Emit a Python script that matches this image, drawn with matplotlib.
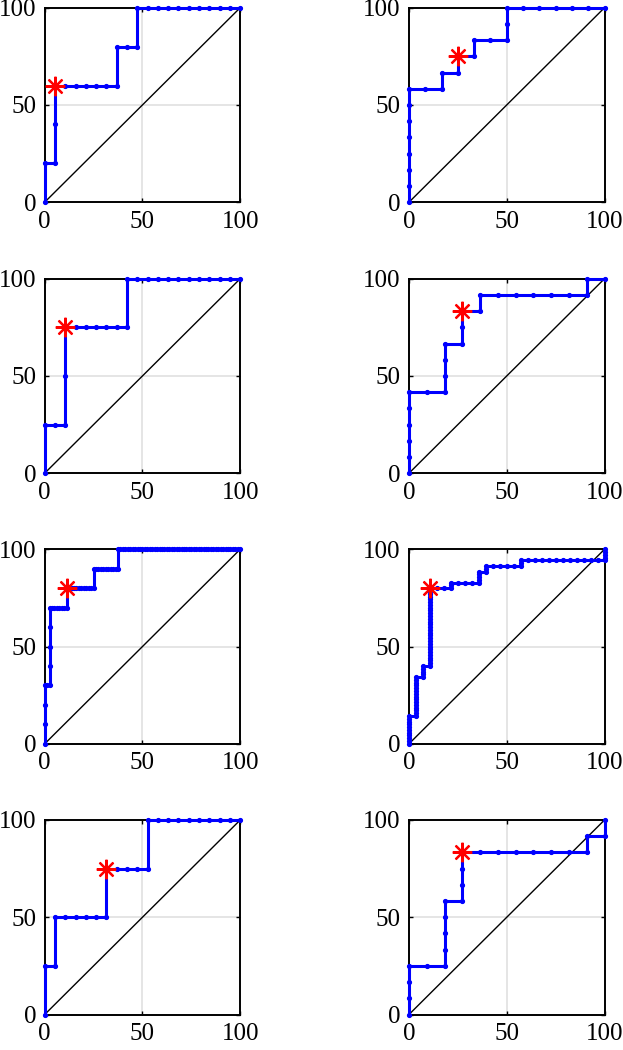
import matplotlib
matplotlib.use('Agg')
import matplotlib.pyplot as plt
import numpy as np

plt.rcParams['font.family'] = ['Liberation Serif', 'DejaVu Serif']

# ROC points per panel: false-positive count, true-positive count, class sizes, optimal point
fp1 = [0, 0, 1, 1, 1, 2, 3, 4, 5, 6, 7, 7, 8, 9, 9, 10, 11, 12, 13, 14, 15, 16, 17, 18, 19]
tp1 = [0, 1, 1, 2, 3, 3, 3, 3, 3, 3, 3, 4, 4, 4, 5, 5, 5, 5, 5, 5, 5, 5, 5, 5, 5]
n1 = (19, 5)
opt1 = (1, 3)

fp2 = [0, 0, 0, 0, 0, 0, 0, 0, 1, 2, 2, 3, 3, 4, 4, 5, 6, 6, 6, 7, 8, 9, 10, 11, 12]
tp2 = [0, 1, 2, 3, 4, 5, 6, 7, 7, 7, 8, 8, 9, 9, 10, 10, 10, 11, 12, 12, 12, 12, 12, 12, 12]
n2 = (12, 12)
opt2 = (3, 9)

fp3 = [0, 0, 1, 2, 2, 2, 3, 4, 5, 6, 7, 8, 8, 9, 10, 11, 12, 13, 14, 15, 16, 17, 18, 19]
tp3 = [0, 1, 1, 1, 2, 3, 3, 3, 3, 3, 3, 3, 4, 4, 4, 4, 4, 4, 4, 4, 4, 4, 4, 4]
n3 = (19, 4)
opt3 = (2, 3)

fp4 = [0, 0, 0, 0, 0, 0, 1, 2, 2, 2, 2, 3, 3, 3, 4, 4, 5, 6, 7, 8, 9, 10, 10, 11]
tp4 = [0, 1, 2, 3, 4, 5, 5, 5, 6, 7, 8, 8, 9, 10, 10, 11, 11, 11, 11, 11, 11, 11, 12, 12]
n4 = (11, 12)
opt4 = (3, 10)

fp5 = [0, 0, 0, 0, 1, 2, 2, 2, 2, 2, 3, 4, 5, 6, 7, 8, 9, 9, 10, 11, 12, 13, 14, 15,
       16, 17, 18, 19, 20, 20, 21, 22, 23, 24, 25, 26, 27, 28, 29, 30, 30, 31, 32, 33,
       34, 35, 36, 37, 38, 39, 40, 41, 42, 43, 44, 45, 46, 47, 48, 49, 50, 51, 52, 53,
       54, 55, 56, 57, 58, 59, 60, 61, 62, 63, 64, 65, 66, 67, 68, 69, 70, 71, 72, 73,
       74, 75, 76, 77, 78, 79, 80]
tp5 = [0, 1, 2, 3, 3, 3, 4, 5, 6, 7, 7, 7, 7, 7, 7, 7, 7, 8, 8, 8, 8, 8, 8, 8,
       8, 8, 8, 8, 8, 9, 9, 9, 9, 9, 9, 9, 9, 9, 9, 9, 10, 10, 10, 10,
       10, 10, 10, 10, 10, 10, 10, 10, 10, 10, 10, 10, 10, 10, 10, 10, 10, 10, 10, 10,
       10, 10, 10, 10, 10, 10, 10, 10, 10, 10, 10, 10, 10, 10, 10, 10, 10, 10, 10, 10,
       10, 10, 10, 10, 10, 10, 10]
n5 = (80, 10)
opt5 = (9, 8)

fp6 = [0, 0, 0, 0, 0, 0, 0, 0, 0, 0, 0, 1, 1, 1, 1, 1, 1, 1, 1, 1, 1, 1, 1, 1, 1, 1,
       2, 2, 2, 2, 2, 3, 3, 3, 3, 3, 3, 3, 3, 3, 3, 3, 3, 3, 3, 3, 3, 3, 3, 3, 3, 3,
       3, 3, 3, 3, 3, 3, 3, 3, 4, 5, 6, 6, 6, 7, 8, 9, 10, 10, 10, 10, 10, 11, 11, 11,
       12, 13, 14, 15, 16, 16, 16, 17, 18, 19, 20, 21, 22, 23, 24, 25, 26, 27, 28, 28,
       28, 28, 28]
tp6 = [0, 1, 2, 3, 4, 5, 6, 7, 8, 9, 10, 10, 11, 12, 13, 14, 15, 16, 17, 18, 19, 20, 21, 22, 23, 24,
       24, 25, 26, 27, 28, 28, 29, 30, 31, 32, 33, 34, 35, 36, 37, 38, 39, 40, 41, 42, 43, 44, 45, 46, 47, 48,
       49, 50, 51, 52, 53, 54, 55, 56, 56, 56, 56, 57, 58, 58, 58, 58, 58, 59, 60, 61, 62, 62, 63, 64,
       64, 64, 64, 64, 64, 65, 66, 66, 66, 66, 66, 66, 66, 66, 66, 66, 66, 66, 66, 67,
       68, 69, 70]
n6 = (28, 70)
opt6 = (3, 56)

fp7 = [0, 0, 1, 1, 2, 3, 4, 5, 6, 6, 7, 8, 9, 10, 10, 11, 12, 13, 14, 15, 16, 17, 18, 19]
tp7 = [0, 1, 1, 2, 2, 2, 2, 2, 2, 3, 3, 3, 3, 3, 4, 4, 4, 4, 4, 4, 4, 4, 4, 4]
n7 = (19, 4)
opt7 = (6, 3)

fp8 = [0, 0, 0, 0, 1, 2, 2, 2, 2, 2, 3, 3, 3, 3, 4, 5, 6, 7, 8, 9, 10, 10, 11, 11]
tp8 = [0, 1, 2, 3, 3, 3, 4, 5, 6, 7, 7, 8, 9, 10, 10, 10, 10, 10, 10, 10, 10, 11, 11, 12]
n8 = (11, 12)
opt8 = (3, 10)

panels = [(fp1, tp1, n1, opt1), (fp2, tp2, n2, opt2), (fp3, tp3, n3, opt3), (fp4, tp4, n4, opt4),
          (fp5, tp5, n5, opt5), (fp6, tp6, n6, opt6), (fp7, tp7, n7, opt7), (fp8, tp8, n8, opt8)]

W, H = 623, 1050
fig = plt.figure(figsize=(W / 100, H / 100), dpi=100)

lefts = [44.7, 409.0]
tops = [7.7, 278.7, 549.3, 820.0]
aw, ah = 195.5, 194.5

for i, (fp, tp, (nneg, npos), (ox, oy)) in enumerate(panels):
    row, col = divmod(i, 2)
    ax = fig.add_axes([lefts[col] / W, 1 - (tops[row] + ah) / H, aw / W, ah / H])
    x = 100 * np.array(fp) / nneg
    y = 100 * np.array(tp) / npos
    ax.plot([0, 100], [0, 100], color='black', linewidth=1.0, zorder=2)
    ax.plot(x, y, '.-', color='#0000ff', linewidth=2.2, markersize=5.5, clip_on=False, zorder=3)
    ax.plot(100 * ox / nneg, 100 * oy / npos, linestyle='none', marker=(8, 2, 0),
            color='#ff0000', markersize=14, markeredgewidth=1.6, clip_on=False, zorder=4)
    ax.set_xlim(0, 100)
    ax.set_ylim(0, 100)
    ax.set_xticks([0, 50, 100])
    ax.set_yticks([0, 50, 100])
    ax.grid(True, color='#e0e0e0', linewidth=1.2)
    ax.set_axisbelow(True)
    ax.tick_params(direction='in', top=True, right=True, length=3, width=1.0,
                   labelsize=18, pad=6)
    for s in ax.spines.values():
        s.set_linewidth(1.4)
        s.set_zorder(1)

fig.savefig('out.png', dpi=100)
